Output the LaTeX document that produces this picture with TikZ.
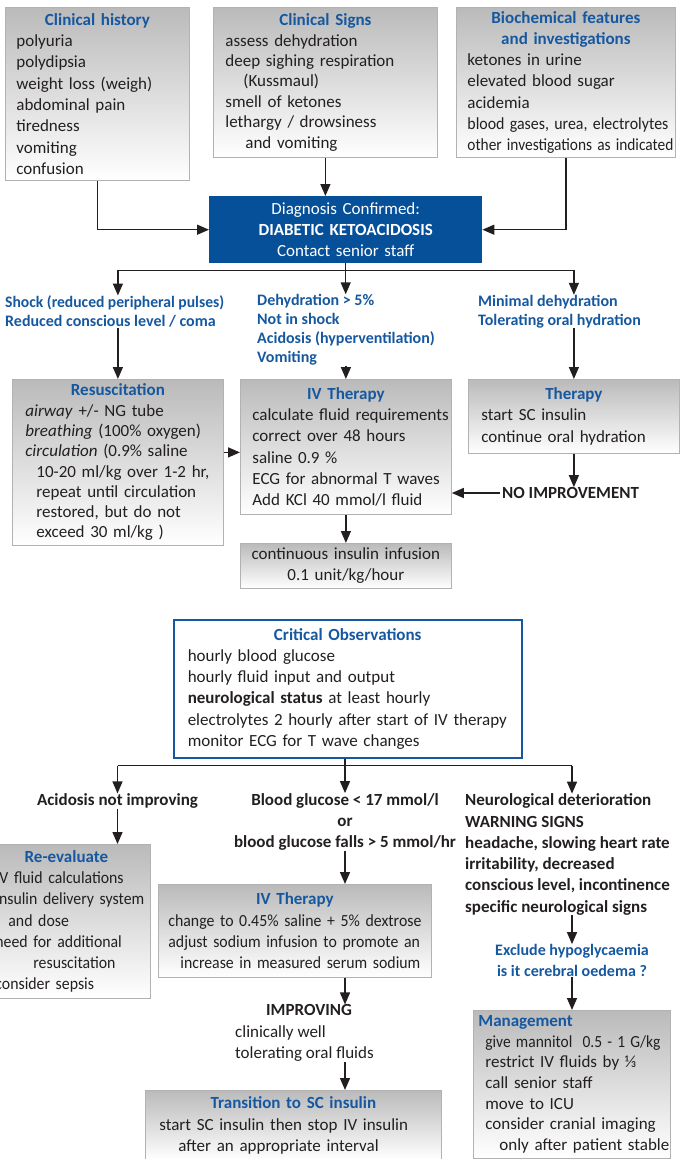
\documentclass[tikz,border=0pt]{standalone}
\usepackage{fontspec}
\setmainfont{Carlito}
\newfontfamily\narrowfont{Carlito}[FakeStretch=0.93]
\usepackage{graphicx}
\usepackage{tikz}
\usetikzlibrary{arrows.meta, calc}

\definecolor{headblue}{RGB}{22,88,160}
\definecolor{diagblue}{RGB}{6,79,153}
\definecolor{inkgray}{RGB}{35,31,32}

\newcommand{\ttl}[1]{\textcolor{headblue}{\normalfont\bfseries #1}}
\newcommand{\boxsetup}[1]{\parindent=#1\relax\rightskip=-20pt plus 1fil\relax}
\newcommand{\boxhead}[2][11pt]{\makebox[\hsize]{\ttl{#2}}\\\boxsetup{#1}}
\newcommand{\fitw}[2]{\resizebox{#1}{\height}{#2}}

\begin{document}
\begin{tikzpicture}[x=1pt, y=-1pt, font={\fontsize{17}{21.3}\selectfont}, text=inkgray,
    gbox/.style={draw=black!30, line width=0.8pt, top color=black!27, bottom color=white,
      anchor=north west, align=left, inner sep=0pt},
    bluelbl/.style={align=left, inner sep=0pt, text=headblue,
      font={\fontsize{16}{19}\selectfont\bfseries}},
    blacklbl/.style={align=left, inner sep=0pt, font={\fontsize{17}{21.3}\selectfont\bfseries}},
    arr/.style={line width=1.4pt, draw=inkgray, -{Triangle[length=12pt,width=10pt]}},
    conn/.style={line width=1.4pt, draw=inkgray}]
    \useasboundingbox (0,0) rectangle (680,1159);
    \clip (0,0) rectangle (680,1159);

    % what is found
    \node[gbox, text width=184pt, minimum height=173pt] (hist) at (5,7)
      {\boxhead{Clinical history}polyuria\\polydipsia\\weight loss (weigh)\\abdominal pain\\tiredness\\vomiting\\confusion};
    \node[gbox, text width=224pt, minimum height=150pt, font={\fontsize{17}{20.4}\selectfont}] (signs) at (213,7)
      {\boxhead[12pt]{Clinical Signs}assess dehydration\\deep sighing respiration\\\hspace*{18pt}(Kussmaul)\\smell of ketones\\lethargy / drowsiness\\\hspace*{20pt}and vomiting};
    \node[gbox, text width=219pt, minimum height=150pt] (bio) at (456,7)
      {\makebox[\hsize]{\ttl{Biochemical features}}\\\boxhead{and investigations}ketones in urine\\elevated blood sugar\\acidemia\\
       \fitw{201pt}{blood gases, urea, electrolytes}\\\fitw{206pt}{other investigations as indicated}};

    % diagnosis
    \node[fill=diagblue, text=white, align=center, text width=273pt, minimum height=67pt,
      anchor=north west, inner sep=0pt] (diag) at (209,196)
      {Diagnosis Confirmed:\\\textbf{DIABETIC KETOACIDOSIS}\\Contact senior staff};
    \draw[arr] (hist.south) |- (diag.west);
    \draw[arr] (signs.south) -- (signs.south |- diag.north);
    \draw[arr] (bio.south) |- (diag.east);

    % first split
    \node[bluelbl, anchor=west] (lshock) at (5,311.5) {\fitw{219pt}{Shock (reduced peripheral pulses)}\\Reduced conscious level / coma};
    \node[bluelbl, anchor=west] (mdehy) at (257,330) {Dehydration > 5\%\\Not in shock\\Acidosis (hyperventilation)\\Vomiting};
    \node[bluelbl, anchor=west] (rmin) at (478,311.5) {Minimal dehydration\\Tolerating oral hydration};

    \node[gbox, text width=211pt, minimum height=166pt, font={\fontsize{17}{20.3}\selectfont}] (resus) at (12,379)
      {\boxhead[13pt]{Resuscitation}\textit{airway} +/- NG tube\\\textit{breathing} (100\% oxygen)\\\textit{circulation} (0.9\% saline\\
       \hspace*{11pt}10-20 ml/kg over 1-2 hr,\\\hspace*{11pt}repeat until circulation\\\hspace*{11pt}restored, but do not\\\hspace*{11pt}exceed 30 ml/kg )};
    \node[gbox, text width=211pt, minimum height=135pt] (ivt) at (240,379)
      {\boxhead[12pt]{IV Therapy}calculate fluid requirements\\correct over 48 hours\\saline 0.9 \%\\ECG for abnormal T waves\\Add KCl 40 mmol/l fluid};
    \node[gbox, text width=211pt, minimum height=74pt] (ther) at (468,379)
      {\boxhead[13pt]{Therapy}start SC insulin\\continue oral hydration};
    \node[blacklbl, anchor=west, inner xsep=2pt] (noimp) at (500,493) {NO IMPROVEMENT};
    \node[gbox, align=center, text width=211pt, minimum height=45pt] (cii) at (240,543)
      {continuous insulin infusion\\0.1 unit/kg/hour};

    \coordinate (split1) at ($(diag.south)+(0,7)$);
    \draw[conn] (split1 -| resus.north) -- (split1 -| ther.north);
    \draw[arr] (diag.south) -- (diag.south |- mdehy.north);
    \draw[arr] (split1 -| resus.north) -- (resus.north |- lshock.north);
    \draw[arr] (split1 -| ther.north) -- (ther.north |- rmin.north);
    \draw[arr] (resus.north |- lshock.south) -- (resus.north);
    \draw[arr] (ivt.north |- mdehy.south) -- (ivt.north);
    \draw[arr] (ther.north |- rmin.south) -- (ther.north);
    \draw[arr] ([yshift=10pt]resus.east) -- ([yshift=10pt]resus.east -| ivt.west);
    \draw[arr] (ther.south) -- (ther.south |- noimp.north);
    \draw[arr] (noimp.west) -- (noimp.west -| ivt.east);
    \draw[arr] (ivt.south) -- (cii.north);

    % observations
    \node[draw=headblue, line width=1.5pt, fill=white, anchor=north west, align=left, inner sep=0pt,
      text width=348pt, minimum height=138pt] (crit) at (173,619)
      {\boxhead[14pt]{Critical Observations}hourly blood glucose\\hourly fluid input and output\\\textbf{neurological status} at least hourly\\
       electrolytes 2 hourly after start of IV therapy\\monitor ECG for T wave changes};

    % second split
    \node[blacklbl, align=center] (acid) at (117.5,801) {Acidosis not improving};
    \node[blacklbl, align=center] (bg) at (345,822) {Blood glucose < 17 mmol/l\\or\\blood glucose falls > 5 mmol/hr};
    \node[blacklbl, anchor=west] (neuro) at (465,854.5) {Neurological deterioration\\WARNING SIGNS\\headache, slowing heart rate\\
      irritability, decreased\\conscious level, incontinence\\specific neurological signs};
    \node[bluelbl, align=center, font={\fontsize{16}{21}\selectfont\bfseries}] (excl) at (572,960.5)
      {Exclude hypoglycaemia\\is it cerebral oedema ?};

    \node[gbox, text width=168pt, minimum height=154pt, font={\narrowfont\fontsize{17}{21.3}\selectfont}] (reev) at (-18,844)
      {\boxhead[13pt]{Re-evaluate}IV fluid calculations\\insulin delivery system\\\hspace*{13pt}and dose\\need for additional\\
       \hspace*{38pt}resuscitation\\consider sepsis};
    \node[gbox, text width=273pt, minimum height=93pt, font={\narrowfont\fontsize{17}{21.3}\selectfont}] (ivt2) at (158,884)
      {\boxhead[10pt]{IV Therapy}change to 0.45\% saline + 5\% dextrose\\adjust sodium infusion to promote an\\
       \hspace*{12pt}increase in measured serum sodium};
    \node[align=left, inner sep=0pt, anchor=west] (impr) at (235,1033)
      {\hspace*{31pt}\textbf{IMPROVING}\\clinically well\\tolerating oral fluids};
    \node[gbox, text width=296pt, minimum height=70pt] (trans) at (145,1090)
      {\boxhead[14pt]{Transition to SC insulin}start SC insulin then stop IV insulin\\\hspace*{19pt}after an appropriate interval};
    \node[gbox, text width=197pt, minimum height=148pt, font={\fontsize{17}{20.7}\selectfont}] (mgmt) at (473,1010)
      {\hspace*{5pt}\ttl{Management}\\\boxsetup{12pt}\fitw{175pt}{give mannitol\ \ 0.5 - 1 G/kg}\\restrict IV fluids by ⅓\\call senior staff\\
       move to ICU\\consider cranial imaging\\\hspace*{14pt}only after patient stable};

    \coordinate (split2) at ($(crit.south)+(0,7)$);
    \draw[arr] (crit.south -| bg.north) -- (bg.north);
    \draw[conn] (split2 -| acid.north) -- (split2 -| excl.north);
    \draw[arr] (split2 -| acid.north) -- (acid.north);
    \draw[arr] (split2 -| excl.north) -- (excl.north |- neuro.north);
    \draw[arr] (acid.south) -- (acid.south |- reev.north);
    \draw[arr] (bg.south) -- (bg.south |- ivt2.north);
    \draw[arr] (excl.north |- neuro.south) -- (excl.north);
    \draw[arr] (excl.south) -- (excl.south |- mgmt.north);
    \draw[arr] (bg.south |- ivt2.south) -- (bg.south |- impr.north);
    \draw[arr] (bg.south |- impr.south) -- (bg.south |- trans.north);
\end{tikzpicture}
\end{document}
